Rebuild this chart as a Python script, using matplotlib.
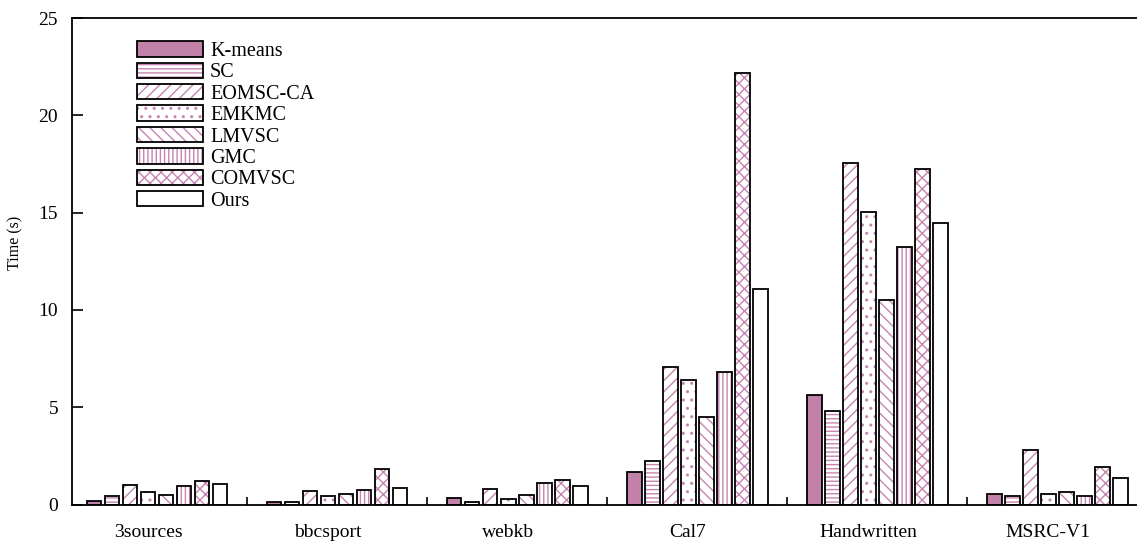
import numpy as np
import matplotlib.pyplot as plt

plt.rcParams['font.family'] = ['Liberation Serif', 'DejaVu Serif']
plt.rcParams['hatch.linewidth'] = 1.0

# Running time (s) of each method on each dataset
datasets = ["3sources", "bbcsport", "webkb", "Cal7", "Handwritten", "MSRC-V1"]
methods = ["K-means", "SC", "EOMSC-CA", "EMKMC", "LMVSC", "GMC", "COMVSC", "Ours"]

kmeans  = [0.18, 0.14, 0.32, 1.65, 5.62, 0.52]
sc      = [0.45, 0.15, 0.13, 2.25, 4.80, 0.44]
eomsc   = [0.98, 0.68, 0.78, 7.09, 17.58, 2.78]
emkmc   = [0.62, 0.42, 0.27, 6.39, 15.02, 0.55]
lmvsc   = [0.47, 0.52, 0.50, 4.50, 10.53, 0.63]
gmc     = [0.93, 0.73, 1.10, 6.79, 13.25, 0.42]
comvsc  = [1.22, 1.84, 1.24, 22.17, 17.27, 1.91]
ours    = [1.04, 0.86, 0.97, 11.10, 14.49, 1.34]

times = [kmeans, sc, eomsc, emkmc, lmvsc, gmc, comvsc, ours]

pink = '#c585b0'
fill = '#c281a9'
hatches = ['', '----', '///', '..', '\\\\\\', '||||', 'xxx', '']
faces = [fill, 'white', 'white', 'white', 'white', 'white', 'white', 'white']

W, H = 1137, 542
fig = plt.figure(figsize=(W / 100, H / 100), dpi=100)
ax = fig.add_axes([72 / W, 37.5 / H, 1 - 72 / W, (505 - 18.7) / H])

x = np.arange(len(datasets))
step = 0.1
width = 0.083

handles = []
for i, (name, vals) in enumerate(zip(methods, times)):
    pos = x + (i - 3.5) * step
    # hatch layer in pink, then a black outline on top
    b1 = ax.bar(pos, vals, width, color=faces[i], edgecolor=pink,
                hatch=hatches[i], linewidth=0)
    b2 = ax.bar(pos, vals, width, facecolor='none', edgecolor='black',
                linewidth=1.3)
    handles.append((b1[0], b2[0]))

ax.set_xlim(-0.4722, 5.444)
ax.set_ylim(0, 25)
ax.set_yticks([0, 5, 10, 15, 20, 25])
ax.set_ylabel("Time (s)", fontsize=11.5)
ax.yaxis.set_label_coords(-0.046, 0.539)

ax.set_xticks(x - 0.05)
ax.set_xticklabels(datasets)
ax.set_xticks(x[:-1] + 0.5, minor=True)
ax.tick_params(axis='x', which='major', length=0, pad=14, labelsize=14)
ax.tick_params(axis='x', which='minor', direction='in', length=6, width=1.2)
ax.tick_params(axis='y', direction='in', length=8, width=1.2, pad=10,
               labelsize=14)

ax.spines['right'].set_visible(False)
for s in ['left', 'bottom', 'top']:
    ax.spines[s].set_linewidth(1.3)

ax.legend(handles, methods, loc='upper left',
          bbox_to_anchor=(137 / W, 1 - 41.2 / H),
          bbox_transform=fig.transFigure, frameon=False, fontsize=14.5,
          handlelength=3.28, handleheight=0.8, labelspacing=0.085,
          handletextpad=0.35, borderpad=0, borderaxespad=0)

fig.savefig("out.png", dpi=100)
